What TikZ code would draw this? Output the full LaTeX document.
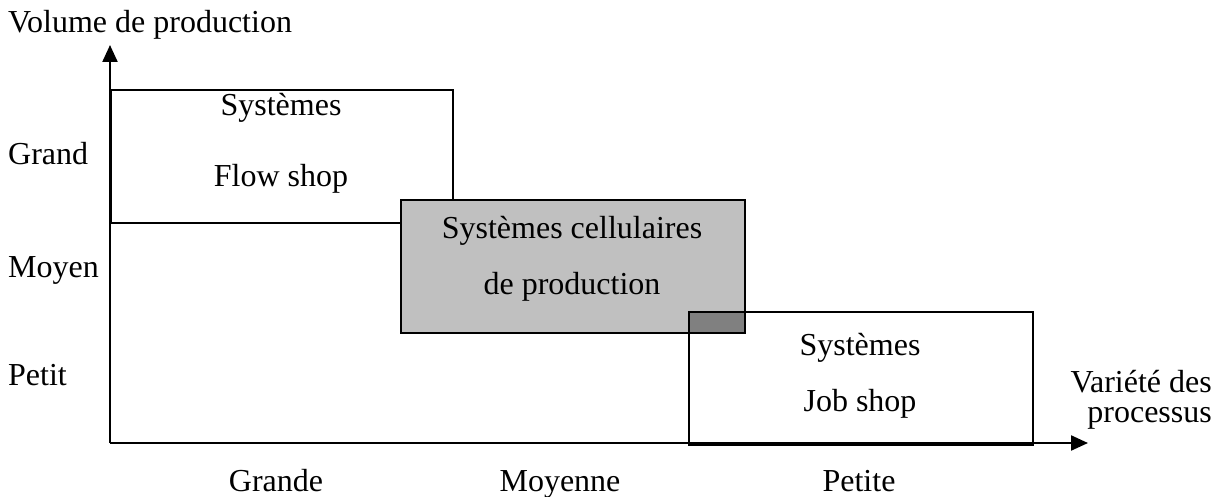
\documentclass[tikz,border=0pt]{standalone}
\usepackage{fontspec}
\setmainfont{Liberation Serif}
\usetikzlibrary{arrows.meta}
\definecolor{cellgray}{RGB}{192,192,192}
\definecolor{overgray}{RGB}{128,128,128}
\begin{document}
\begin{tikzpicture}[x=1pt,y=-1pt,
  box/.style={draw=black, line width=1.8pt, rectangle, inner sep=0pt, anchor=north west},
  lbl/.style={font=\fontsize{32}{36}\selectfont, inner sep=0pt, anchor=base},
  axisline/.style={line width=2.2pt, -{Triangle[length=17pt,width=15pt]}}]
\useasboundingbox (0,0) rectangle (1223,497);
% boxes
\node[box, minimum width=342pt, minimum height=133pt] (flow) at (110,89) {};
\node[box, fill=cellgray, minimum width=344pt, minimum height=133pt] (cell) at (400,199) {};
\node[box, minimum width=344pt, minimum height=133pt] (job) at (688,311) {};
\node[box, fill=overgray, minimum width=56pt, minimum height=21pt] (over) at (688,311) {};
% axes
\coordinate (O) at (110,443);
\coordinate (Ytip) at (110,45);
\coordinate (Xtip) at (1088,443);
\draw[axisline] (O) -- (Ytip);
\draw[axisline] (O) -- (Xtip);
% box texts
\node[lbl] (f1) at (281,116) {Systèmes};
\node[lbl] (f2) at (281,187) {Flow shop};
\node[lbl] (c1) at (572,238) {Systèmes cellulaires};
\node[lbl] (c2) at (572,294) {de production};
\node[lbl] (j1) at (860,355) {Systèmes};
\node[lbl] (j2) at (860,411) {Job shop};
% axis labels
\node[lbl, anchor=base west] (ylab) at (8,33) {Volume de production};
\node[lbl, anchor=base west] (yg) at (8,165) {Grand};
\node[lbl, anchor=base west] (ym) at (8,277) {Moyen};
\node[lbl, anchor=base west] (yp) at (8,385) {Petit};
\node[lbl] (xg) at (276,491) {Grande};
\node[lbl] (xm) at (560,491) {Moyenne};
\node[lbl] (xp) at (859,491) {Petite};
\node[lbl, anchor=base east] (xl1) at (1212,392) {Variété des};
\node[lbl, anchor=base east] (xl2) at (1212,422) {processus};
\end{tikzpicture}
\end{document}
